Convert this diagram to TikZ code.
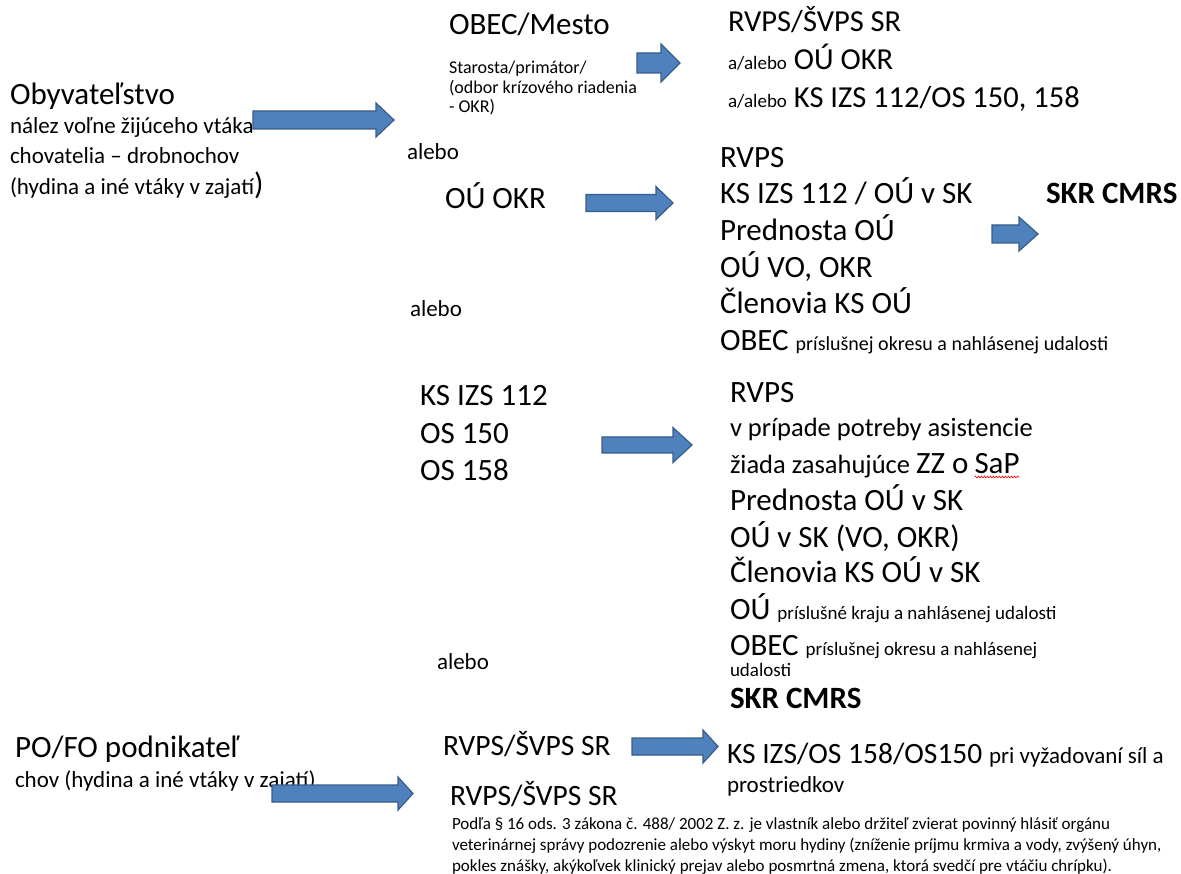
\documentclass[tikz,border=0pt]{standalone}
\usepackage{fontspec}
\setmainfont{Carlito}
\usetikzlibrary{decorations.pathmorphing}
\definecolor{arrfill}{HTML}{4F81BD}
\definecolor{arrdraw}{HTML}{385D8A}
\newcommand\fL{\fontsize{31}{37}\selectfont}
\newcommand\fLr{\fontsize{29.5}{35}\selectfont}
\newcommand\fLt{\fontsize{30.5}{36}\selectfont}
\newcommand\fM{\fontsize{23}{28}\selectfont}
\newcommand\fMM{\fontsize{26.5}{31}\selectfont}
\newcommand\fS{\fontsize{19}{23}\selectfont}
\newcommand\fSb{\fontsize{20}{24}\selectfont}
\newcommand\fSS{\fontsize{18}{22}\selectfont}
\newcommand\fXS{\fontsize{17}{20}\selectfont}
\newcommand\blockarr[7]{%
  \draw[blockarrow] (#2,#5-#6) -- (#4,#5-#6) -- (#4,#5-#7) -- (#3,#5) -- (#4,#5+#7) -- (#4,#5+#6) -- (#2,#5+#6) -- cycle;
  \coordinate (#1) at (#3,#5);}
\tikzset{
  txt/.style={anchor=base west, inner sep=0pt, outer sep=0pt},
  txtL/.style={txt, font=\fL},
  txtLr/.style={txt, font=\fLr},
  txtLt/.style={txt, font=\fLt},
  txtM/.style={txt, font=\fM},
  txtMM/.style={txt, font=\fMM},
  txtS/.style={txt, font=\fS},
  txtSS/.style={txt, font=\fSS},
  txtXS/.style={txt, font=\fXS},
  txtB/.style={txt, font=\fL\bfseries},
  blockarrow/.style={fill=arrfill, draw=arrdraw, line width=1.2pt, line join=miter},
}
\begin{document}
\begin{tikzpicture}[x=1pt, y=-1pt]
\useasboundingbox (0,0) rectangle (1181,874);
\fill[white] (0,0) rectangle (1181,874);

% left column, top
\node[txtL] (obyv) at (10,105) {Obyvateľstvo};
\node[txtM] (nalez) at (10,134) {nález voľne žijúceho vtáka};
\node[txtM] (chov1) at (10,164) {chovatelia – drobnochov};
\node[txtM] (hyd) at (10,195) {(hydina a iné vtáky v zajatí{\fL)}};

% OBEC/Mesto block
\node[txtL] (obec) at (449,35) {OBEC/Mesto};
\node[txtSS] (star1) at (449,73.5) {Starosta/primátor/};
\node[txtSS] (star2) at (449,93.5) {(odbor krízového riadenia};
\node[txtSS] (star3) at (449,112.5) {- OKR)};

% top right
\node[txtLt] (rv1) at (728,32) {RVPS/ŠVPS SR};
\node[txtLt] (rv2) at (728,70) {{\fS a/alebo} OÚ OKR};
\node[txtLt] (rv3) at (728,108) {{\fS a/alebo} KS IZS 112/OS 150, 158};

\node[txtM] (alebo1) at (407,160) {alebo};
\node[txtL] (ouokr) at (445,209) {OÚ OKR};

% second block
\node[txtL] (b2a) at (720,168) {RVPS};
\node[txtL] (b2b) at (720,204) {KS IZS 112 / OÚ v SK};
\node[txtL] (b2c) at (720,241) {Prednosta OÚ};
\node[txtL] (b2d) at (720,278) {OÚ VO, OKR};
\node[txtL] (b2e) at (720,314) {Členovia KS OÚ};
\node[txtL] (b2f) at (720,351) {OBEC {\fSb príslušnej okresu a nahlásenej udalosti}};
\node[txtB] (skr1) at (1046,204) {SKR CMRS};

\node[txtM] (alebo2) at (410,317) {alebo};

% third block
\node[txtL] (ks1) at (420,406) {KS IZS 112};
\node[txtL] (ks2) at (420,443) {OS 150};
\node[txtL] (ks3) at (420,480) {OS 158};

\node[txtL] (c1) at (730,403) {RVPS};
\node[txtMM] (c2) at (730,437) {v prípade potreby asistencie};
\node[txtMM] (c3) at (730,473) {žiada zasahujúce {\fL ZZ o}};
\node[txtL] (c3b) at ([xshift=6pt]c3.base east) {SaP};
\node[txtL] (c4) at (730,510) {Prednosta OÚ v SK};
\node[txtL] (c5) at (730,547) {OÚ v SK (VO, OKR)};
\node[txtL] (c6) at (730,582) {Členovia KS OÚ v SK};
\node[txtL] (c7) at (730,619) {OÚ {\fS príslušné kraju a nahlásenej udalosti}};
\node[txtL] (c8) at (730,655) {OBEC {\fS príslušnej okresu a nahlásenej}};
\node[txtS] (c9) at (730,676) {udalosti};
\node[txtB] (c10) at (730,708) {SKR CMRS};
\draw[red, line width=0.6pt, decorate, decoration={snake, amplitude=0.9pt, segment length=3pt}]
  ([yshift=-4pt]c3b.base west) -- ([yshift=-4pt]c3b.base east);

\node[txtM] (alebo3) at (437,669) {alebo};

% bottom
\node[txtL] (pofo) at (15,757) {PO/FO podnikateľ};
\node[txtM] (chov2) at (15,787) {chov (hydina a iné vtáky v zajatí)};
\node[txtLr] (rvb1) at (443,755) {RVPS/ŠVPS SR};
\node[txtLr] (rvb2) at (450,805) {RVPS/ŠVPS SR};
\node[txtLr] (ksb) at (727,763) {KS IZS/OS 158/OS150 {\fM pri vyžadovaní síl a}};
\node[txtM] (prost) at (727,792) {prostriedkov};
\node[txtXS] (fn1) at (452,829) {Podľa § 16 ods. 3 zákona č. 488/ 2002 Z. z. je vlastník alebo držiteľ zvierat povinný hlásiť orgánu};
\node[txtXS] (fn2) at (452,850) {veterinárnej správy podozrenie alebo výskyt moru hydiny (zníženie príjmu krmiva a vody, zvýšený úhyn,};
\node[txtXS] (fn3) at (452,871) {pokles znášky, akýkoľvek klinický prejav alebo posmrtná zmena, ktorá svedčí pre vtáčiu chrípku).};

% block arrows
\blockarr{a0}{253}{394}{376}{120}{9}{17}
\blockarr{a1}{637}{680}{661}{63}{10}{19}
\blockarr{a2}{586}{673}{656}{203}{8.5}{16.5}
\blockarr{a3}{992}{1038}{1019}{234}{9}{17}
\blockarr{a4}{602}{692}{673}{445}{8}{17.5}
\blockarr{a5}{632}{718}{703}{746.5}{8.5}{16.5}
\blockarr{a6}{272}{413}{398}{793.5}{8.5}{16.5}
\end{tikzpicture}
\end{document}
